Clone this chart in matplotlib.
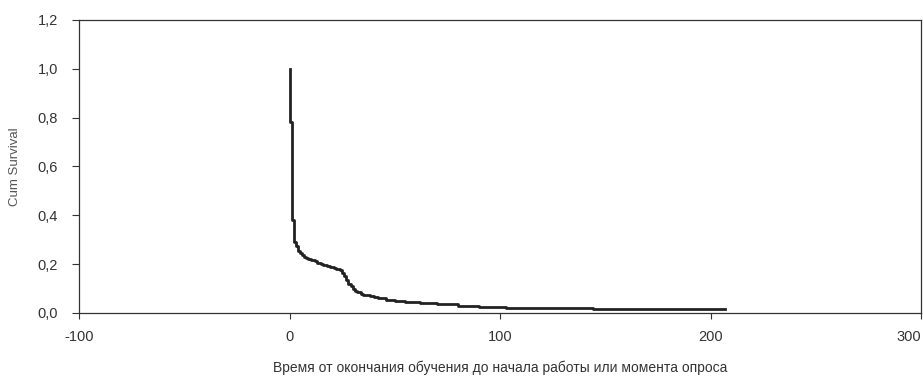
import matplotlib
matplotlib.use("Agg")
import matplotlib.pyplot as plt
from matplotlib.ticker import FuncFormatter

# Kaplan-Meier style step data (time, cumulative survival after step)
times = [0, 0.3, 1.3, 2, 3, 4, 5, 6, 7, 8, 9, 10, 12, 13, 15, 16, 18, 19, 21,
         22, 24, 25, 26, 27, 28, 29, 30, 31, 32, 34, 35, 38, 40, 42, 46, 50,
         55, 62, 70, 80, 90, 103, 144, 207]
survival = [1.0, 0.78, 0.38, 0.29, 0.275, 0.255, 0.245, 0.237, 0.231, 0.226,
            0.221, 0.216, 0.211, 0.205, 0.200, 0.196, 0.191, 0.187, 0.184,
            0.181, 0.175, 0.165, 0.15, 0.135, 0.12, 0.11, 0.10, 0.092, 0.085,
            0.078, 0.073, 0.068, 0.064, 0.06, 0.054, 0.048, 0.044, 0.040,
            0.035, 0.028, 0.026, 0.020, 0.016, 0.016]
x_ticks = [-100, 0, 100, 200, 300]
y_ticks = [0.0, 0.2, 0.4, 0.6, 0.8, 1.0, 1.2]

plt.rcParams['font.family'] = ['Liberation Sans', 'DejaVu Sans']
plt.rcParams['axes.unicode_minus'] = False

fig = plt.figure(figsize=(9.23, 3.76), dpi=100)
ax = fig.add_axes([0.0856, 0.1676, 0.9124, 0.7794])

ax.step(times, survival, where='post', color='#222222', lw=2.0)

ax.set_xlim(-100, 300)
ax.set_ylim(0, 1.2)
ax.set_xticks(x_ticks)
ax.set_yticks(y_ticks)
ax.yaxis.set_major_formatter(FuncFormatter(lambda v, p: f"{v:.1f}".replace('.', ',')))
ax.tick_params(axis='both', labelsize=10.5, colors='#333333', length=5, width=0.8)
ax.tick_params(axis='y', pad=10)
ax.tick_params(axis='x', pad=8, length=4)
for s in ax.spines.values():
    s.set_color('#333333')
    s.set_linewidth(0.9)
xl = ax.get_xticklabels()
xl[-1].set_horizontalalignment('right')

ax.set_ylabel('Cum Survival', fontsize=9.5, color='#555555', labelpad=12)
ax.set_xlabel('Время от окончания обучения до начала работы или момента опроса',
              fontsize=10, color='#333333', labelpad=12)

fig.savefig('out.png', dpi=100)
